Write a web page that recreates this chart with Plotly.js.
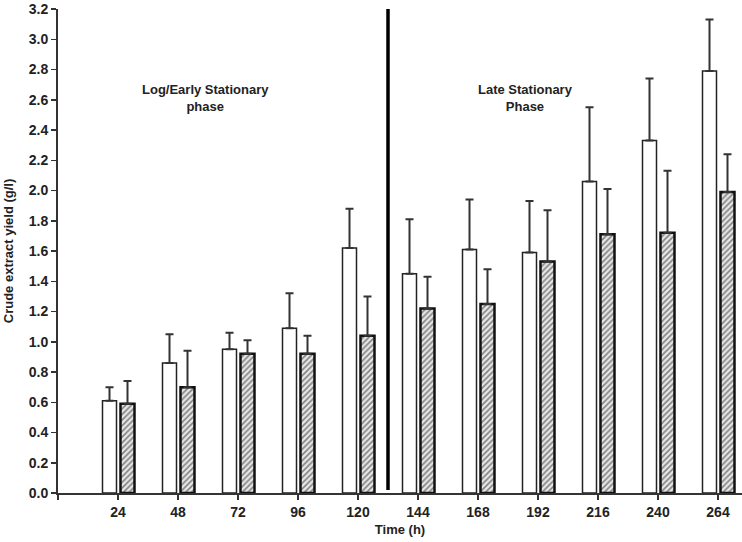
<!DOCTYPE html>
<html>
<head>
<meta charset="utf-8">
<script src="https://cdn.plot.ly/plotly-3.0.1.min.js"></script>
<style>
  html, body { margin: 0; padding: 0; background: #fff; }
  #myDiv { width: 742px; height: 542px; }
</style>
</head>
<body>
<div id="myDiv"></div>
<script>
var times = [24, 48, 72, 96, 120, 144, 168, 192, 216, 240, 264];

var open_yield = [0.61, 0.86, 0.95, 1.09, 1.62, 1.45, 1.61, 1.59, 2.06, 2.33, 2.79];
var open_sd    = [0.09, 0.19, 0.11, 0.23, 0.26, 0.36, 0.33, 0.34, 0.49, 0.41, 0.34];

var hatched_yield = [0.59, 0.70, 0.92, 0.92, 1.04, 1.22, 1.25, 1.53, 1.71, 1.72, 1.99];
var hatched_sd    = [0.15, 0.24, 0.09, 0.12, 0.26, 0.21, 0.23, 0.34, 0.30, 0.41, 0.25];

var tick_vals = [0].concat(times);
var tick_text = [''].concat(times.map(String));

var phase_split = 132;

var trace1 = {
    type: 'bar',
    x: times,
    y: open_yield,
    width: 5.6,
    offset: -6.2,
    marker: {
        color: '#ffffff',
        line: { color: '#222222', width: 1.5 }
    },
    error_y: {
        type: 'data',
        symmetric: false,
        array: open_sd,
        arrayminus: open_sd.map(function(){ return 0; }),
        color: '#333333',
        thickness: 2,
        width: 4
    },
    showlegend: false
};

var trace2 = {
    type: 'bar',
    x: times,
    y: hatched_yield,
    width: 5.6,
    offset: 1.0,
    marker: {
        color: '#e4e4e4',
        pattern: { shape: '/', fgcolor: '#808080', bgcolor: '#e6e6e6', size: 4, solidity: 0.38 },
        line: { color: '#111111', width: 2.5 }
    },
    error_y: {
        type: 'data',
        symmetric: false,
        array: hatched_sd,
        arrayminus: hatched_sd.map(function(){ return 0; }),
        color: '#333333',
        thickness: 2,
        width: 4
    },
    showlegend: false
};

var tickfont = { family: 'Liberation Sans, Arial, sans-serif', size: 14, color: '#222222', weight: 'bold' };

var layout = {
    width: 742,
    height: 542,
    margin: { l: 58, r: 0, t: 9, b: 49 },
    paper_bgcolor: '#ffffff',
    plot_bgcolor: '#ffffff',
    barmode: 'overlay',
    font: { family: 'Liberation Sans, Arial, sans-serif', color: '#222222' },
    xaxis: {
        range: [0, 273.6],
        tickmode: 'array',
        tickvals: tick_vals,
        ticktext: tick_text,
        ticks: 'outside',
        ticklen: 5,
        tickwidth: 1.5,
        tickcolor: '#333333',
        showline: true,
        linecolor: '#333333',
        linewidth: 2,
        showgrid: false,
        zeroline: false,
        tickfont: tickfont,
        title: {
            text: 'Time (h)',
            font: { family: 'Liberation Sans, Arial, sans-serif', size: 13, color: '#222222', weight: 'bold' },
            standoff: 6
        }
    },
    yaxis: {
        range: [0, 3.2],
        dtick: 0.2,
        tickformat: '.1f',
        ticks: 'outside',
        ticklen: 5,
        tickwidth: 1.5,
        tickcolor: '#333333',
        showline: true,
        linecolor: '#333333',
        linewidth: 2,
        showgrid: false,
        zeroline: false,
        tickfont: tickfont,
        title: {
            text: 'Crude extract yield (g/l)',
            font: { family: 'Liberation Sans, Arial, sans-serif', size: 13, color: '#222222', weight: 'bold' },
            standoff: 12
        }
    },
    shapes: [{
        type: 'line',
        xref: 'x', yref: 'y',
        x0: phase_split, x1: phase_split,
        y0: 0.02, y1: 3.2,
        line: { color: '#000000', width: 3.5 }
    }],
    annotations: [{
        xref: 'x', yref: 'y',
        x: 59, y: 2.61,
        text: 'Log/Early Stationary<br>phase',
        showarrow: false,
        font: { family: 'Liberation Sans, Arial, sans-serif', size: 13, color: '#222222', weight: 'bold' }
    }, {
        xref: 'x', yref: 'y',
        x: 187, y: 2.61,
        text: 'Late Stationary<br>Phase',
        showarrow: false,
        font: { family: 'Liberation Sans, Arial, sans-serif', size: 13, color: '#222222', weight: 'bold' }
    }]
};

Plotly.newPlot('myDiv', [trace1, trace2], layout, { staticPlot: true, displayModeBar: false });
</script>
</body>
</html>
